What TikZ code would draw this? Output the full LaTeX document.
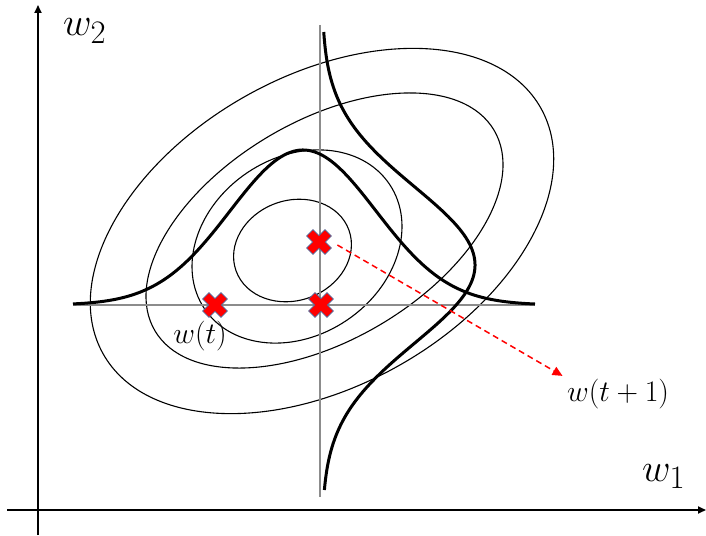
\documentclass[tikz,border=0pt]{standalone}
\usepackage{xcolor}
\usepackage{tikz}
\usetikzlibrary{arrows.meta, positioning, calc}

\definecolor{xedge}{RGB}{80,110,160}
\newcommand{\axw}[1]{\scalebox{1.58}{#1}}
\newcommand{\stepw}[1]{\scalebox{1.2}{#1}}

\begin{document}
\begin{tikzpicture}[
    x=1pt, y=-1pt,
    % Estilos de ejes y curvas
    axis/.style={line width=1.8pt, -{Triangle[length=8pt,width=7pt]}},
    contour/.style={line width=1.1pt, draw=black},
    guide/.style={line width=2.2pt, draw=gray!90},
    bell/.style={line width=3pt, draw=black},
    % Estilos de textos
    axlabel/.style={inner sep=0pt, font=\Huge},
    wlabel/.style={inner sep=1pt, font=\Huge},
    % Marcador rojo
    xmark/.style={minimum size=26pt, inner sep=0pt, path picture={
        \filldraw[fill=red, draw=xedge, line width=0.8pt,
                  shift={(path picture bounding box.center)}]
          (0pt,6.36pt) -- (-6.01pt,12.37pt) -- (-12.37pt,6.01pt) -- (-6.36pt,0pt)
          -- (-12.37pt,-6.01pt) -- (-6.01pt,-12.37pt) -- (0pt,-6.36pt) -- (6.01pt,-12.37pt)
          -- (12.37pt,-6.01pt) -- (6.36pt,0pt) -- (12.37pt,6.01pt) -- (6.01pt,12.37pt) -- cycle;}},
    steparrow/.style={-{Triangle[length=10pt,width=9pt]}, line width=1.5pt, draw=red,
                      dash pattern=on 6pt off 4pt}
]
\useasboundingbox (0,0) rectangle (706,535);

% 1. Ejes
\coordinate (ybot) at (38,535);
\coordinate (ytop) at (38,5);
\coordinate (xleft) at (7,510);
\coordinate (xright) at (706,510);
\draw[axis] (ybot) -- (ytop);
\draw[axis] (xleft) -- (xright);
\node[axlabel, anchor=base west] (w2lbl) at (63,36) {\axw{$w_2$}};
\node[axlabel, anchor=base west] (w1lbl) at (642,481) {\axw{$w_1$}};

% 2. Curvas de nivel
\draw[contour, rotate around={29.3:(322,231)}] (322,231) ellipse [x radius=251pt, y radius=155pt];
\draw[contour, rotate around={30.6:(324.5,230.5)}] (324.5,230.5) ellipse [x radius=197pt, y radius=109.4pt];
\draw[contour, rotate around={34:(297,246.5)}] (297,246.5) ellipse [x radius=111.5pt, y radius=89pt];
\draw[contour, rotate around={20:(292.5,250.5)}] (292.5,250.5) ellipse [x radius=60pt, y radius=50pt];

% 3. Cortes y campanas
\coordinate (hl) at (73,305);
\coordinate (hr) at (535,305);
\coordinate (vt) at (320,25);
\coordinate (vb) at (320,497);
\draw[guide] (hl) -- (hr);
\draw[guide] (vt) -- (vb);
\draw[bell] plot[domain=73:535, samples=150] (\x, {305-155*exp(-((\x-303)/73)^2/2)});
\draw[bell] plot[domain=32:490, samples=150] ({322+153*exp(-((\x-265)/78)^2/2)}, \x);

% 4. Pesos
\node[xmark] (wt) at (215,305) {};
\node[xmark] (wc) at (321,305) {};
\node[xmark] (wn) at (319,242) {};
\node[wlabel, below=2pt of wt, xshift=-15pt] (tlbl) {\stepw{$w(t)$}};
\node[wlabel, anchor=west] (nextlbl) at (566,394) {\stepw{$w(t+1)$}};

\draw[steparrow, shorten <=6pt, shorten >=4pt] (wn.east) -- (nextlbl.north west);

\end{tikzpicture}
\end{document}
